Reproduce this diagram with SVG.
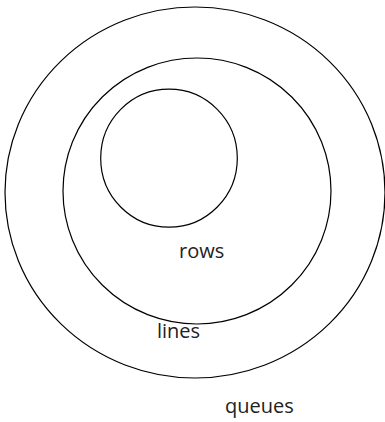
<svg xmlns="http://www.w3.org/2000/svg" width="385" height="422" viewBox="0 0 385 422">
<style>
.ring{fill:none;stroke:#000;stroke-width:1.2}
.lbl{font-family:"Open Sans","Noto Sans",sans-serif;font-size:20px;fill:#222}
</style>
<rect width="385" height="422" fill="#fff"/>
<g id="queues">
<ellipse class="ring" cx="195" cy="192.5" rx="190" ry="185.5"/>
<text class="lbl" x="225" y="413">queues</text>
</g>
<g id="lines">
<ellipse class="ring" cx="197" cy="191" rx="134" ry="133"/>
<text class="lbl" x="157" y="337.5">lines</text>
</g>
<g id="rows">
<ellipse class="ring" cx="169" cy="158.2" rx="68.3" ry="69"/>
<text class="lbl" x="179" y="257.5">rows</text>
</g>
<g id="connectors"/>
</svg>
